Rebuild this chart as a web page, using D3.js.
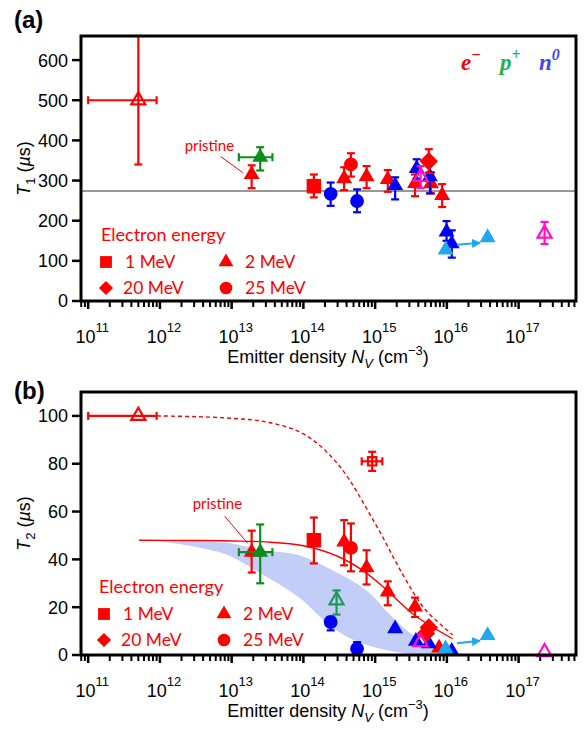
<!DOCTYPE html>
<html>
<head>
<meta charset="utf-8">
<script src="https://cdn.jsdelivr.net/npm/d3@7"></script>
<style>
  body { margin: 0; background: #fff; }
  svg { display: block; }
</style>
</head>
<body>
<svg width="585" height="730"></svg>
<script>
const svg = d3.select('svg');

const RED = '#ff0000', BLUE = '#0000f5', CYAN = '#1ea8f0', MAGENTA = '#ff10c8',
      GREEN = '#0a8f1a', GREEN2 = '#1a9a55', BAND = '#c2cef7';

// ---- data ----
const xTickVals = [1e11, 1e12, 1e13, 1e14, 1e15, 1e16, 1e17];
const t1Ticks = [0, 100, 200, 300, 400, 500, 600];
const t2Ticks = [0, 20, 40, 60, 80, 100];
const energyLabels = ['1 MeV', '2 MeV', '20 MeV', '25 MeV'];
const particleLabels = [['e', '\u2212'], ['p', '+'], ['n', '0']];

// rows: [N_V, T, errLow, errHigh, xErrLow, xErrHigh]
const t1Elec1 = [[1.4e14, 286, 258, 315]];
const t1Elec2 = [[1.9e13, 315, 281, 338], [3.7e14, 305, 276, 333], [7.6e14, 310, 281, 336],
                 [1.5e15, 303, 272, 326], [3.6e15, 293, 261, 315], [6.0e15, 292, 268, 320],
                 [8.6e15, 263, 234, 291]];
const t1Elec20 = [[5.6e15, 348, 319, 378]];
const t1Elec25 = [[4.6e14, 340, 310, 368]];
const t1ElecOpen = [[5e11, 500, 340, 660, 1e11, 9e11]];
const t1Proton = [[2.5e13, 358, 325, 383, 1.26e13, 3.7e13]];
const t1NeutCirc = [[2.4e14, 267, 237, 295], [5.6e14, 249, 221, 278]];
const t1NeutTri = [[1.9e15, 288, 253, 308], [3.8e15, 330, 305, 353], [5.8e15, 310, 268, 320],
                   [9.9e15, 172, 150, 199], [1.17e16, 143, 108, 176]];
const t1Cyan = [[9.6e15, 127], [3.7e16, 158]];
const t1Magenta = [[4.3e15, 309, 281, 336], [2.3e17, 168, 142, 197]];
const t1Ref = 274;

const t2Elec1 = [[1.4e14, 48, 38.3, 57.5]];
const t2Elec2 = [[1.9e13, 43, 34.5, 52], [3.7e14, 47.3, 37.5, 56.4], [7.6e14, 36.5, 29.5, 43.8],
                 [1.5e15, 26.4, 20.8, 30.8], [3.6e15, 20.1, 15.9, 24], [7.8e15, 3]];
const t2Elec20 = [[5.1e15, 9], [5.6e15, 11.5]];
const t2Elec25 = [[4.6e14, 44.8, 35, 55]];
const t2ElecOpen = [[5e11, 100, null, null, 1e11, 9e11]];
const t2ElecCross = [[9.1e14, 81, 77, 85, 6.5e14, 1.26e15]];
const t2Proton = [[2.5e13, 43, 30, 54.6, 1.26e13, 3.7e13]];
const t2ProtonOpen = [[2.9e14, 22.9, 16.9, 27]];
const t2NeutCirc = [[2.4e14, 13.8, 10.3, 15.9], [5.6e14, 2.6, 0, 5.4]];
const t2NeutTri = [[1.9e15, 11], [3.7e15, 5.8], [5.6e15, 4.7], [1.17e16, 1.6]];
const t2Cyan = [[9.6e15, 2.6], [3.7e16, 8.2]];
const t2Magenta = [[4.3e15, 5.4], [2.3e17, 1.2]];

// model curves and shaded band: [N_V, T2]
const t2Dashed = [[9.1e11, 100], [3e12, 99.7], [1e13, 99], [3e13, 97.5], [1e14, 92.5], [3e14, 80],
                  [1e15, 55], [2.5e15, 33], [5e15, 19], [1.2e16, 8.5]];
const t2Solid = [[5.1e11, 48], [3e12, 47.9], [1e13, 47.7], [3e13, 47.3], [1e14, 45.7], [3e14, 41.3],
                 [7e14, 35], [1.35e15, 28], [3.6e15, 16.5], [1.2e16, 6.8]];
const bandUpper = [[9.1e11, 47.8], [8.5e12, 46.9], [2.45e13, 44], [8.7e13, 41.7], [2.5e14, 35.5],
                   [7.5e14, 27.1], [1.74e15, 15.8], [3.7e15, 7.4], [7.8e15, 1.9], [1.26e16, 0.3]];
const bandLower = [[9.1e11, 47.8], [3.6e12, 44.9], [8.5e12, 42], [2.45e13, 34.4], [8.7e13, 24.1],
                   [2.5e14, 11.6], [6e14, 5.3], [2.1e15, 1.1], [5e15, 0.3], [1.26e16, 0.3]];

// ---- helpers ----
const xDomain = [Math.pow(10, 10.9), Math.pow(10, 17.8)];
const SANS = 'Liberation Sans, Arial, sans-serif';
const CAL = 'Lato, Open Sans, sans-serif';

const symPath = {
  tri: d3.symbol(d3.symbolTriangle, 110)(),
  otri: d3.symbol(d3.symbolTriangle, 85)(),
  sq: d3.symbol(d3.symbolSquare, 210)(),
  circ: d3.symbol(d3.symbolCircle, 150)(),
  dia: d3.symbol(d3.symbolSquare, 170)(),
  osq: d3.symbol(d3.symbolSquare, 70)()
};

svg.append('defs').append('marker')
  .attr('id', 'arr').attr('viewBox', '0 0 10 10').attr('refX', 9).attr('refY', 5)
  .attr('markerWidth', 9).attr('markerHeight', 9).attr('markerUnits', 'userSpaceOnUse')
  .attr('orient', 'auto')
  .append('path').attr('d', 'M0,0L10,5L0,10Z').attr('fill', CYAN);

function marker(g, shape, cx, cy, color, open) {
  const p = g.append('path')
    .attr('d', symPath[shape])
    .attr('transform', `translate(${cx},${cy})` + (shape === 'dia' ? ' rotate(45)' : ''));
  if (open) p.attr('fill', 'none').attr('stroke', color).attr('stroke-width', 2.2);
  else p.attr('fill', color);
}

function points(P, data, shape, color, open) {
  const { g, x, y } = P;
  const cap = 4;
  data.forEach(d => {
    const [n, t, lo, hi, xlo, xhi] = d;
    const cx = x(n), cy = y(t);
    const eb = g.append('g').attr('stroke', color).attr('stroke-width', 2.2);
    if (lo != null) {
      eb.append('line').attr('x1', cx).attr('x2', cx).attr('y1', y(lo)).attr('y2', y(hi));
      [lo, hi].forEach(v => eb.append('line').attr('x1', cx - cap).attr('x2', cx + cap)
        .attr('y1', y(v)).attr('y2', y(v)));
    }
    if (xlo != null) {
      eb.append('line').attr('x1', x(xlo)).attr('x2', x(xhi)).attr('y1', cy).attr('y2', cy);
      [xlo, xhi].forEach(v => eb.append('line').attr('x1', x(v)).attr('x2', x(v))
        .attr('y1', cy - cap).attr('y2', cy + cap));
    }
    marker(g, shape, cx, cy, color, open);
  });
}

function arrow(P, data) {
  const { g, x, y } = P;
  const [a, b] = data.map(d => [x(d[0]), y(d[1])]);
  const f0 = 0.27, f1 = 0.82;
  g.append('line')
    .attr('x1', a[0] + (b[0] - a[0]) * f0).attr('y1', a[1] + (b[1] - a[1]) * f0 - 2)
    .attr('x2', a[0] + (b[0] - a[0]) * f1).attr('y2', a[1] + (b[1] - a[1]) * f1 + 3)
    .attr('stroke', CYAN).attr('stroke-width', 2).attr('marker-end', 'url(#arr)');
}

function pristine(P, pt, lx, ly, l0, l1) {
  const { g, x, y } = P;
  const cx = x(pt[0]), cy = y(pt[1]);
  g.append('text').attr('x', cx + lx).attr('y', cy + ly)
    .attr('font-family', CAL).attr('font-size', 15).attr('fill', RED).text('pristine');
  g.append('line').attr('x1', cx + l0[0]).attr('y1', cy + l0[1])
    .attr('x2', cx + l1[0]).attr('y2', cy + l1[1]).attr('stroke', RED).attr('stroke-width', 1);
}

function legend(g, x0, y0) {
  g.append('text').attr('x', x0).attr('y', y0).attr('font-family', CAL).attr('font-size', 18)
    .attr('fill', RED).text('Electron energy');
  const shapes = ['sq', 'tri', 'dia', 'circ'];
  const sizes = { sq: 140, tri: 95, dia: 100, circ: 125 };
  energyLabels.forEach((lab, i) => {
    const col = i % 2, row = Math.floor(i / 2);
    const mx = x0 + 5 + col * 120, my = y0 + 21 + row * 26;
    const sh = shapes[i];
    g.append('path')
      .attr('d', d3.symbol(sh === 'tri' ? d3.symbolTriangle : sh === 'circ' ? d3.symbolCircle : d3.symbolSquare, sizes[sh])())
      .attr('transform', `translate(${mx},${my})` + (sh === 'dia' ? ' rotate(45)' : ''))
      .attr('fill', RED);
    g.append('text').attr('x', mx + 19 - (sh === 'dia' ? 2 : 0)).attr('y', my + 6)
      .attr('font-family', CAL).attr('font-size', 17.5).attr('fill', RED).text(lab);
  });
}

function panel(cfg) {
  const g = svg.append('g');
  const x = d3.scaleLog().domain(xDomain).range([81, 576]);
  const y = d3.scaleLinear().domain([0, cfg.yMax]).range([cfg.bottom, cfg.top]);

  // panel letter
  g.append('text').attr('x', 14).attr('y', cfg.letterY).attr('font-family', SANS)
    .attr('font-weight', 'bold').attr('font-size', 24).text(cfg.letter);

  // y ticks
  cfg.yTicks.forEach(v => {
    g.append('line').attr('x1', 72).attr('x2', 81).attr('y1', y(v)).attr('y2', y(v))
      .attr('stroke', '#000').attr('stroke-width', 2.5);
    g.append('text').attr('x', 68).attr('y', y(v)).attr('dy', '0.36em').attr('text-anchor', 'end')
      .attr('font-family', SANS).attr('font-size', 18).text(v);
  });

  // x ticks: minor + major
  const minor = [];
  for (let e = 10; e <= 17; e++) for (let k = 2; k <= 9; k++) {
    const v = k * Math.pow(10, e);
    if (v > xDomain[0] && v < xDomain[1]) minor.push(v);
  }
  minor.forEach(v => g.append('line').attr('x1', x(v)).attr('x2', x(v))
    .attr('y1', cfg.bottom).attr('y2', cfg.bottom + 6).attr('stroke', '#000').attr('stroke-width', 2));
  xTickVals.forEach(v => {
    g.append('line').attr('x1', x(v)).attr('x2', x(v)).attr('y1', cfg.bottom).attr('y2', cfg.bottom + 8)
      .attr('stroke', '#000').attr('stroke-width', 2.5);
    const t = g.append('text').attr('x', x(v) + 4).attr('y', cfg.bottom + 42).attr('text-anchor', 'middle')
      .attr('font-family', SANS).attr('font-size', 18);
    t.append('tspan').text('10');
    t.append('tspan').attr('dy', -11).attr('font-size', 13).text(Math.round(Math.log10(v)));
  });

  // axis titles
  const xt = g.append('text').attr('x', 328).attr('y', cfg.bottom + 62).attr('text-anchor', 'middle')
    .attr('font-family', SANS).attr('font-size', 18);
  xt.append('tspan').text('Emitter density ');
  xt.append('tspan').attr('font-style', 'italic').text('N');
  xt.append('tspan').attr('font-style', 'italic').attr('font-size', 13).attr('dy', 5).text('V');
  xt.append('tspan').attr('dy', -5).text(' (cm');
  xt.append('tspan').attr('font-size', 13).attr('dy', -8).text('\u22123');
  xt.append('tspan').attr('dy', 8).text(')');

  const yt = g.append('text')
    .attr('transform', `translate(30,${(cfg.top + cfg.bottom) / 2}) rotate(-90)`)
    .attr('text-anchor', 'middle').attr('font-family', SANS).attr('font-size', 18);
  yt.append('tspan').attr('font-style', 'italic').text('T');
  yt.append('tspan').attr('font-size', 13).attr('dy', 5).text(cfg.ySub);
  yt.append('tspan').attr('dy', -5).text(' (');
  yt.append('tspan').attr('font-style', 'italic').text('\u00b5');
  yt.append('tspan').text('s)');

  return { g, x, y, cfg };
}

function frame(P) {
  const c = P.cfg;
  P.g.append('rect').attr('x', 81).attr('y', c.top).attr('width', 495).attr('height', c.bottom - c.top)
    .attr('fill', 'none').attr('stroke', '#000').attr('stroke-width', 3);
}

// ---- panel (a): T1 ----
const A = panel({ letter: '(a)', letterY: 28, top: 36, bottom: 301, yMax: 660, yTicks: t1Ticks, ySub: '1' });
A.g.append('line').attr('x1', 81).attr('x2', 576).attr('y1', A.y(t1Ref)).attr('y2', A.y(t1Ref))
  .attr('stroke', '#333').attr('stroke-width', 1.2);

points(A, t1ElecOpen, 'otri', RED, true);
points(A, t1Proton, 'tri', GREEN);
points(A, t1Elec2, 'tri', RED);
points(A, t1Elec1, 'sq', RED);
points(A, t1NeutCirc, 'circ', BLUE);
points(A, t1Elec25, 'circ', RED);
points(A, t1NeutTri, 'tri', BLUE);
points(A, t1Elec20, 'dia', RED);
points(A, t1Magenta, 'otri', MAGENTA, true);
points(A, t1Cyan, 'tri', CYAN);
arrow(A, t1Cyan);
pristine(A, t1Elec2[0], -67, -24, [-9, -2], [-31, -18]);
legend(A.g, 101, 241);

const pl = A.g.append('g').attr('font-family', 'Liberation Serif, Times New Roman, serif')
  .attr('font-weight', 'bold').attr('font-style', 'italic').attr('font-size', 23);
const plColors = [RED, '#22b050', '#4444ff'];
particleLabels.forEach((p, i) => {
  const t = pl.append('text').attr('x', 461 + i * 39).attr('y', 70).attr('fill', plColors[i]);
  t.append('tspan').text(p[0]);
  t.append('tspan').attr('dy', -10).attr('font-size', 16).text(p[1]);
});
frame(A);

// ---- panel (b): T2 ----
const B = panel({ letter: '(b)', letterY: 399, top: 392, bottom: 655, yMax: 110, yTicks: t2Ticks, ySub: '2' });

const lineGen = d3.line().x(d => B.x(d[0])).y(d => B.y(d[1])).curve(d3.curveCatmullRom);
const bandPath = lineGen(bandUpper) + lineGen(bandLower.slice().reverse()).replace(/^M/, 'L') + 'Z';
B.g.append('path').attr('d', bandPath).attr('fill', BAND);
B.g.append('path').attr('d', lineGen(t2Solid)).attr('fill', 'none').attr('stroke', RED).attr('stroke-width', 1.4);
B.g.append('path').attr('d', lineGen(t2Dashed)).attr('fill', 'none').attr('stroke', RED)
  .attr('stroke-width', 1.4).attr('stroke-dasharray', '4,3');

points(B, t2ElecOpen, 'otri', RED, true);
points(B, t2Elec2, 'tri', RED);
points(B, t2Proton, 'tri', GREEN);
points(B, t2Elec1, 'sq', RED);
points(B, t2Elec25, 'circ', RED);
points(B, t2ElecCross, 'osq', RED, true);
points(B, t2ProtonOpen, 'otri', GREEN2, true);
points(B, t2NeutCirc, 'circ', BLUE);
points(B, t2NeutTri, 'tri', BLUE);
points(B, t2Elec20, 'dia', RED);
points(B, t2Magenta, 'otri', MAGENTA, true);
points(B, t2Cyan, 'tri', CYAN);
arrow(B, t2Cyan);
pristine(B, t2Elec2[0], -59, -43, [-27, -36], [-4, -9]);
legend(B.g, 99, 593);
frame(B);
</script>
</body>
</html>
